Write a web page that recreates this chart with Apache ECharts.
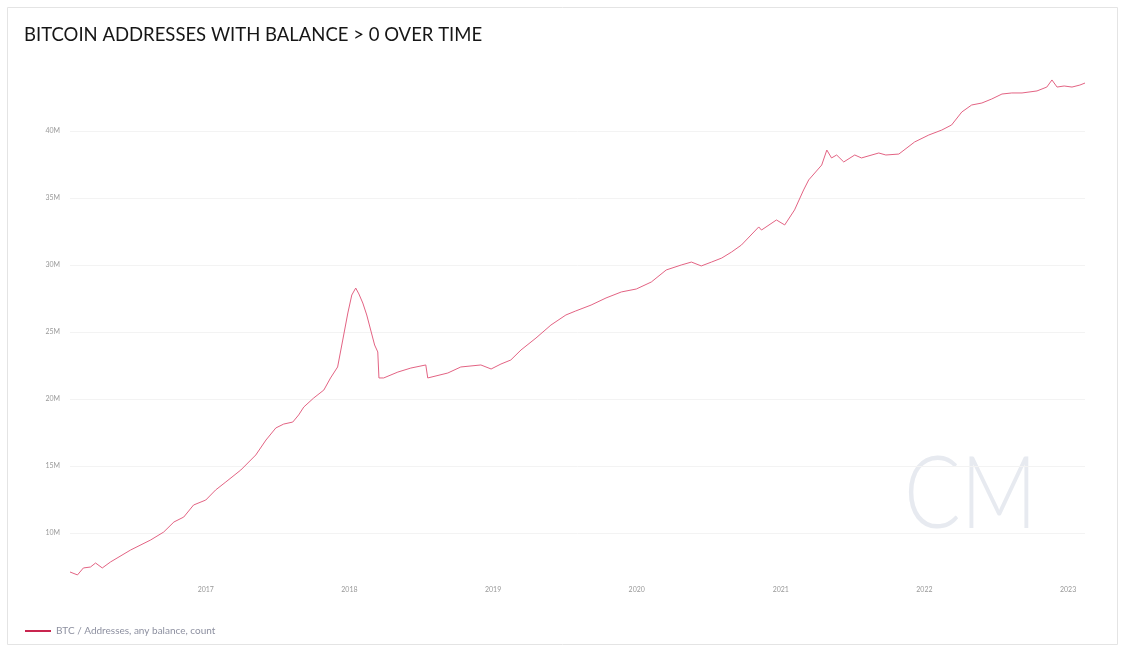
<!DOCTYPE html>
<html>
<head>
<meta charset="utf-8">
<script src="https://cdn.jsdelivr.net/npm/echarts@6/dist/echarts.min.js"></script>
<style>html,body{margin:0;padding:0;background:#fff;}#c{width:1125px;height:647px;}</style>
</head>
<body>
<div id="c"></div>
<script>
const dates = ["2016-01-22","2016-02-10","2016-02-25","2016-03-14","2016-03-27","2016-04-13","2016-05-04","2016-06-24","2016-08-14","2016-09-16","2016-10-12","2016-11-06","2016-12-01","2017-01-01","2017-01-26","2017-02-21","2017-03-31","2017-05-08","2017-06-03","2017-06-28","2017-07-18","2017-08-10","2017-08-25","2017-09-07","2017-10-02","2017-10-28","2017-11-14","2017-12-02","2017-12-15","2017-12-28","2018-01-07","2018-01-17","2018-01-25","2018-02-04","2018-02-14","2018-02-24","2018-03-06","2018-03-14","2018-03-17","2018-03-29","2018-05-04","2018-06-06","2018-07-14","2018-07-19","2018-09-08","2018-10-11","2018-12-01","2018-12-27","2019-01-21","2019-02-15","2019-03-13","2019-04-20","2019-05-28","2019-07-05","2019-07-30","2019-09-07","2019-10-15","2019-11-23","2019-12-31","2020-02-07","2020-03-16","2020-04-23","2020-05-19","2020-06-13","2020-07-09","2020-08-04","2020-08-29","2020-09-23","2020-11-06","2020-11-13","2020-12-21","2021-01-11","2021-02-05","2021-02-28","2021-03-13","2021-04-15","2021-04-28","2021-05-10","2021-05-23","2021-06-10","2021-07-08","2021-07-25","2021-09-07","2021-09-25","2021-10-28","2021-12-07","2022-01-12","2022-02-14","2022-03-11","2022-04-06","2022-05-01","2022-05-27","2022-06-21","2022-07-17","2022-08-11","2022-09-06","2022-10-14","2022-11-08","2022-11-21","2022-12-04","2022-12-22","2023-01-11","2023-01-31","2023-02-13"];
const valuesM = [7.09,6.87,7.39,7.46,7.76,7.39,7.84,8.73,9.48,10.07,10.82,11.19,12.09,12.46,13.21,13.81,14.70,15.82,16.94,17.84,18.13,18.28,18.81,19.40,20.07,20.67,21.57,22.39,24.40,26.42,27.76,28.28,27.84,27.16,26.27,25.15,24.03,23.51,21.57,21.57,22.01,22.31,22.54,21.57,21.94,22.39,22.54,22.24,22.61,22.91,23.66,24.55,25.52,26.27,26.57,27.01,27.54,27.99,28.21,28.73,29.63,30.00,30.22,29.93,30.22,30.52,30.97,31.49,32.84,32.61,33.36,32.99,34.11,35.60,36.35,37.46,38.58,37.99,38.21,37.69,38.21,37.99,38.36,38.21,38.28,39.18,39.70,40.07,40.45,41.42,41.94,42.09,42.39,42.76,42.84,42.84,42.99,43.28,43.81,43.28,43.36,43.28,43.43,43.58];
const yTicksM = [10,15,20,25,30,35,40];
const xTickYears = ["2017","2018","2019","2020","2021","2022","2023"];

const ts = s => Date.UTC(+s.slice(0,4), +s.slice(5,7)-1, +s.slice(8,10));
const seriesData = dates.map((d,i)=>[ts(d), valuesM[i]]);
const xTickValues = xTickYears.map(y=>Date.UTC(+y,0,1));

const chart = echarts.init(document.getElementById('c'));
chart.setOption({
  animation:false,
  backgroundColor:'#fff',
  title:{text:'BITCOIN ADDRESSES WITH BALANCE > 0 OVER TIME', left:19, top:21,
    textStyle:{fontFamily:'Lato', fontSize:18.5, fontWeight:'normal', color:'#161616'}},
  legend:{left:20, top:621, itemWidth:26, itemHeight:2, icon:'rect', itemGap:10,
    textStyle:{fontFamily:'Lato', fontSize:10, color:'#8d90a0'},
    data:[{name:'BTC / Addresses, any balance, count'}]},
  grid:{left:70, right:40, top:75, bottom:70},
  xAxis:{type:'value', min:ts('2016-01-22'), max:ts('2023-02-13'),
    axisLine:{show:false}, axisTick:{show:false, customValues:xTickValues}, splitLine:{show:false},
    axisLabel:{customValues:xTickValues, formatter:v=>String(new Date(v).getUTCFullYear()), fontFamily:'Lato', fontSize:7, color:'#999', margin:9}},
  yAxis:{type:'value', min:6.716, max:44.18,
    axisLine:{show:false}, axisTick:{show:false, customValues:yTicksM},
    splitLine:{show:true, lineStyle:{color:'#f3f3f3', width:1}},
    axisLabel:{customValues:yTicksM, formatter:v=>Math.round(v)+'M', fontFamily:'Lato', fontSize:7, color:'#999', margin:10}},
  graphic:[
    {type:'rect', shape:{x:7.5,y:7.5,width:1110,height:637}, style:{fill:'none', stroke:'#e4e4e4', lineWidth:1}, silent:true, z:-1},
    {type:'text', x:904, y:446, scaleX:0.84, style:{text:'CM', font:'300 100px Lato', fill:'#e7eaf0'}, silent:true, z:-1}
  ],
  series:[{name:'BTC / Addresses, any balance, count', type:'line', data:seriesData, showSymbol:false, symbol:'none',
    lineStyle:{color:'#e36383', width:1}, itemStyle:{color:'#c9254f'}}]
});
</script>
</body>
</html>
